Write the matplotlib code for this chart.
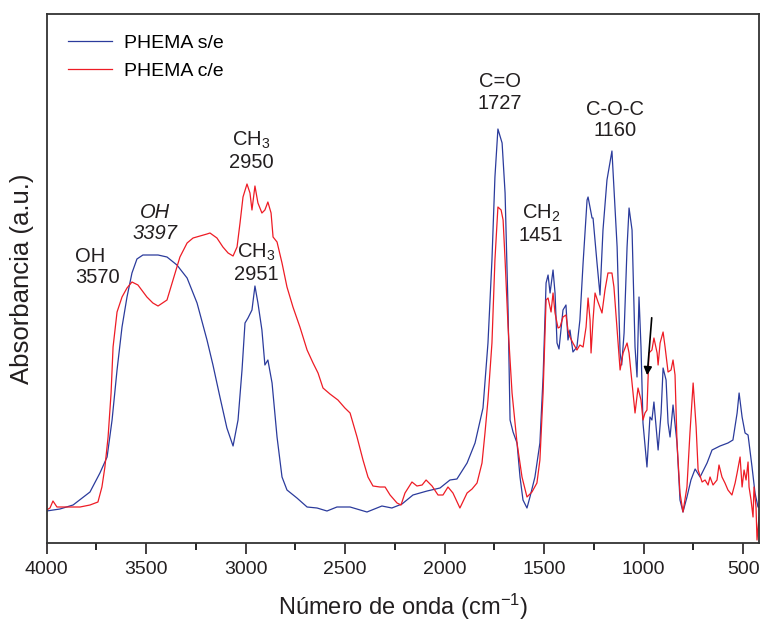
import matplotlib
matplotlib.use('Agg')
import matplotlib.pyplot as plt
from matplotlib.ticker import MultipleLocator

plt.rcParams['font.family'] = ['Liberation Sans', 'DejaVu Sans']
plt.rcParams['mathtext.fontset'] = 'custom'
plt.rcParams['mathtext.rm'] = 'Liberation Sans'
plt.rcParams['mathtext.it'] = 'Liberation Sans:italic'

# PHEMA s/e (blue)
blue_wn = [4000, 3933, 3867, 3782, 3732, 3696, 3671, 3646, 3621, 3596, 3571, 3546, 3516, 3440,
           3395, 3345, 3294, 3244, 3194, 3164, 3129, 3094, 3063, 3038, 3018, 3003, 2988, 2968,
           2953, 2938, 2918, 2903, 2888, 2867, 2842, 2817, 2792, 2742, 2691, 2641, 2591, 2541,
           2475, 2390, 2315, 2265, 2214, 2159, 2088, 2023, 1973, 1938, 1887, 1847, 1807, 1782,
           1762, 1747, 1732, 1711, 1696, 1681, 1671, 1656, 1636, 1621, 1606, 1586, 1571, 1546,
           1521, 1505, 1490, 1480, 1470, 1455, 1445, 1435, 1425, 1405, 1390, 1380, 1370, 1355,
           1335, 1320, 1304, 1284, 1279, 1259, 1254, 1234, 1219, 1204, 1184, 1159, 1133, 1118,
           1110, 1098, 1083, 1073, 1058, 1043, 1033, 1023, 1013, 1003, 983, 968, 958, 948, 937,
           927, 912, 902, 887, 877, 867, 852, 832, 817, 802, 782, 762, 741, 716, 681, 656, 616,
           576, 551, 530, 520, 505, 490, 475, 455, 440, 425, 415]
blue_abs = [0.064, 0.068, 0.076, 0.102, 0.140, 0.172, 0.246, 0.346, 0.432, 0.492, 0.540, 0.568,
            0.576, 0.576, 0.572, 0.556, 0.530, 0.480, 0.406, 0.356, 0.292, 0.230, 0.194, 0.246,
            0.346, 0.440, 0.450, 0.466, 0.514, 0.480, 0.426, 0.356, 0.366, 0.320, 0.212, 0.132,
            0.106, 0.090, 0.072, 0.070, 0.064, 0.072, 0.072, 0.062, 0.074, 0.070, 0.078, 0.096,
            0.104, 0.110, 0.126, 0.128, 0.160, 0.200, 0.270, 0.400, 0.566, 0.732, 0.828, 0.800,
            0.700, 0.466, 0.246, 0.222, 0.200, 0.132, 0.086, 0.070, 0.092, 0.132, 0.200, 0.332,
            0.520, 0.536, 0.500, 0.546, 0.500, 0.400, 0.388, 0.466, 0.476, 0.406, 0.426, 0.382,
            0.392, 0.446, 0.560, 0.686, 0.692, 0.650, 0.650, 0.560, 0.496, 0.626, 0.726, 0.784,
            0.592, 0.380, 0.356, 0.420, 0.592, 0.670, 0.626, 0.392, 0.332, 0.492, 0.392, 0.240,
            0.152, 0.252, 0.246, 0.282, 0.232, 0.186, 0.260, 0.350, 0.326, 0.240, 0.212, 0.276,
            0.200, 0.086, 0.062, 0.092, 0.126, 0.148, 0.132, 0.160, 0.186, 0.194, 0.200, 0.206,
            0.260, 0.300, 0.252, 0.220, 0.216, 0.152, 0.100, 0.072, 0.072]

# PHEMA c/e (red)
red_wn = [4000, 3983, 3968, 3948, 3897, 3832, 3782, 3742, 3722, 3707, 3691, 3676, 3666, 3646,
          3621, 3596, 3571, 3541, 3496, 3466, 3440, 3395, 3365, 3330, 3294, 3264, 3229, 3194,
          3179, 3144, 3114, 3088, 3063, 3043, 3028, 3013, 2993, 2978, 2968, 2953, 2938, 2918,
          2903, 2888, 2872, 2862, 2842, 2817, 2792, 2762, 2727, 2691, 2661, 2636, 2611, 2576,
          2536, 2501, 2475, 2440, 2410, 2385, 2360, 2325, 2299, 2274, 2239, 2219, 2199, 2164,
          2139, 2113, 2093, 2063, 2033, 2008, 1983, 1958, 1923, 1887, 1862, 1837, 1812, 1797,
          1782, 1762, 1747, 1732, 1716, 1706, 1696, 1681, 1661, 1636, 1611, 1586, 1561, 1536,
          1521, 1505, 1490, 1480, 1465, 1455, 1445, 1430, 1420, 1405, 1390, 1380, 1370, 1355,
          1335, 1320, 1304, 1289, 1279, 1269, 1264, 1254, 1244, 1229, 1209, 1194, 1179, 1159,
          1149, 1133, 1118, 1103, 1083, 1073, 1053, 1043, 1028, 1013, 1003, 993, 983, 973, 958,
          948, 932, 927, 917, 902, 892, 877, 862, 852, 842, 832, 817, 802, 782, 767, 751, 736,
          726, 706, 691, 676, 666, 651, 631, 621, 606, 591, 576, 556, 540, 530, 515, 505, 495,
          485, 475, 470, 460, 450, 445, 435, 430, 420, 415]
red_abs = [0.066, 0.070, 0.084, 0.072, 0.072, 0.072, 0.076, 0.082, 0.112, 0.152, 0.212, 0.300,
           0.392, 0.462, 0.492, 0.510, 0.522, 0.516, 0.492, 0.480, 0.474, 0.486, 0.526, 0.572,
           0.600, 0.610, 0.614, 0.618, 0.620, 0.610, 0.592, 0.580, 0.574, 0.592, 0.640, 0.692,
           0.718, 0.700, 0.666, 0.714, 0.680, 0.660, 0.666, 0.682, 0.660, 0.612, 0.602, 0.560,
           0.512, 0.472, 0.432, 0.386, 0.360, 0.340, 0.310, 0.298, 0.286, 0.270, 0.260, 0.212,
           0.166, 0.132, 0.114, 0.112, 0.112, 0.096, 0.080, 0.076, 0.100, 0.122, 0.114, 0.116,
           0.126, 0.114, 0.096, 0.096, 0.112, 0.100, 0.070, 0.100, 0.108, 0.120, 0.160, 0.220,
           0.286, 0.400, 0.566, 0.672, 0.666, 0.646, 0.566, 0.432, 0.300, 0.200, 0.132, 0.092,
           0.102, 0.120, 0.166, 0.300, 0.486, 0.490, 0.462, 0.500, 0.460, 0.430, 0.432, 0.452,
           0.456, 0.426, 0.412, 0.400, 0.386, 0.396, 0.392, 0.432, 0.490, 0.446, 0.380, 0.446,
           0.500, 0.482, 0.460, 0.506, 0.540, 0.540, 0.512, 0.426, 0.346, 0.380, 0.400, 0.380,
           0.300, 0.260, 0.310, 0.286, 0.246, 0.260, 0.266, 0.380, 0.386, 0.410, 0.380, 0.356,
           0.400, 0.422, 0.392, 0.342, 0.346, 0.366, 0.336, 0.200, 0.100, 0.062, 0.112, 0.220,
           0.320, 0.232, 0.146, 0.122, 0.126, 0.116, 0.132, 0.116, 0.126, 0.156, 0.132, 0.120,
           0.106, 0.096, 0.120, 0.140, 0.172, 0.112, 0.146, 0.126, 0.162, 0.112, 0.086, 0.052,
           0.112, 0.072, 0.006, 0.052, -0.004]

# peak labels: text, wavenumber, absorbance, italic
label_text = ['OH\n3570', 'OH\n3397', 'CH$_{3}$\n2950', 'CH$_{3}$\n2951', 'C=O\n1727',
              'CH$_{2}$\n1451', 'C-O-C\n1160']
label_wn = [3857, 3455, 2973, 2948, 1721, 1515, 1143]
label_abs = [0.552, 0.640, 0.785, 0.561, 0.901, 0.638, 0.846]
label_italic = [False, True, False, False, False, False, False]

arrow_from = (958, 0.456)
arrow_to = (983, 0.330)

fig = plt.figure(figsize=(7.61, 6.27), dpi=100)
ax = fig.add_axes([46.6 / 761, 84 / 627, (759 - 46.6) / 761, 529 / 627])

ax.plot(blue_wn, blue_abs, color='#2b3b9c', lw=0.9, label='PHEMA s/e')
ax.plot(red_wn, red_abs, color='#ee1c25', lw=0.9, label='PHEMA c/e')

for txt, x, y, it in zip(label_text, label_wn, label_abs, label_italic):
    ha = 'left' if txt.endswith('3570') else 'center'
    ax.text(x, y, txt, fontsize=14.5, ha=ha, va='center', color='#231f20',
            style='italic' if it else 'normal', linespacing=1.15)

ax.annotate('', xy=arrow_to, xytext=arrow_from,
            arrowprops=dict(arrowstyle='-|>', color='black', lw=1.2, mutation_scale=12))

ax.set_xlim(4000, 420)
ax.set_ylim(0, 1.058)
ax.set_yticks([])
ax.xaxis.set_major_locator(MultipleLocator(500))
ax.xaxis.set_minor_locator(MultipleLocator(250))
ax.tick_params(axis='x', which='major', direction='out', length=8, width=1.2,
               labelsize=14, pad=5, colors='#231f20')
ax.tick_params(axis='x', which='minor', direction='out', length=5, width=1.2)
for s in ax.spines.values():
    s.set_linewidth(1.3)
    s.set_color('#333333')

ax.set_xlabel('Número de onda (cm$^{-1}$)', fontsize=17, labelpad=10, color='#231f20')
ax.set_ylabel('Absorbancia (a.u.)', fontsize=18.5, labelpad=9, color='#231f20')

ax.legend(loc='upper left', bbox_to_anchor=(0.0295, 0.962), frameon=False, fontsize=14,
          borderpad=0, borderaxespad=0, handlelength=2.3, handletextpad=0.6,
          labelspacing=0.55)

fig.savefig('out.png', dpi=100)
